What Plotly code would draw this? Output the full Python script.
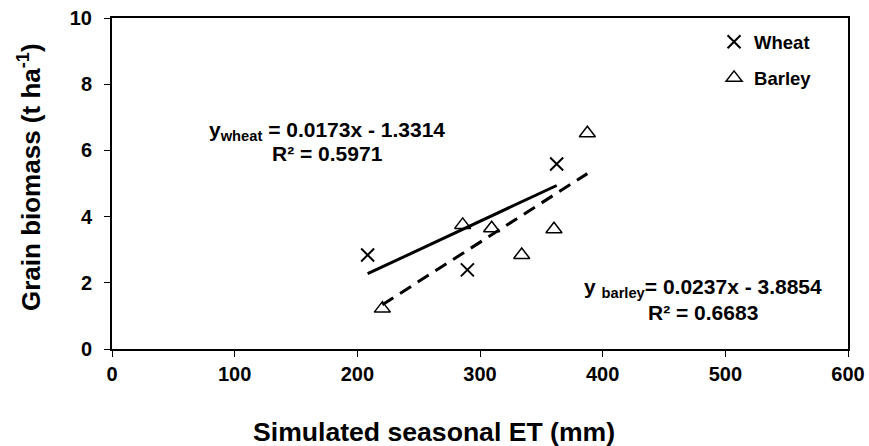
import plotly.graph_objects as go

wheat_et = [208.4, 289.7, 362.5]
wheat_yield = [2.84, 2.39, 5.59]
barley_et = [220.4, 285.9, 309.5, 334.0, 360.3, 387.5]
barley_yield = [1.22, 3.75, 3.65, 2.84, 3.62, 6.52]

wheat_slope, wheat_int = 0.0173, -1.3314
barley_slope, barley_int = 0.0237, -3.8854

x_ticks = [0, 100, 200, 300, 400, 500, 600]
y_ticks = [0, 2, 4, 6, 8, 10]

FONT = "Liberation Sans, Arial, sans-serif"

def fit(xs, m, b):
    x0, x1 = min(xs), max(xs)
    return [x0, x1], [m * x0 + b, m * x1 + b]

wx, wy = fit(wheat_et, wheat_slope, wheat_int)
bx, by = fit(barley_et, barley_slope, barley_int)

fig = go.Figure()
fig.add_trace(go.Scatter(x=wx, y=wy, mode="lines", line=dict(color="black", width=3),
                         showlegend=False, hoverinfo="skip"))
fig.add_trace(go.Scatter(x=bx, y=by, mode="lines", line=dict(color="black", width=3, dash="13px,8px"),
                         showlegend=False, hoverinfo="skip"))
fig.add_trace(go.Scatter(x=wheat_et, y=wheat_yield, mode="markers", name="<b>Wheat</b>",
                         legendgroup="w",
                         marker=dict(symbol="x-thin", size=13, line=dict(color="black", width=2), color="black")))
fig.add_trace(go.Scatter(x=barley_et, y=barley_yield, mode="markers", name="<b>Barley</b>",
                         legendgroup="b",
                         marker=dict(symbol="triangle-up-open", size=14, color="black",
                                     line=dict(color="black", width=1.5))))

ann_font = dict(family=FONT, size=21, color="black")
fig.add_annotation(x=77.4, y=6.59, xanchor="left", yanchor="middle", showarrow=False,
                   text="<b>y<sub>wheat</sub> = 0.0173x - 1.3314</b>", font=ann_font)
fig.add_annotation(x=128.8, y=5.92, xanchor="left", yanchor="middle", showarrow=False,
                   text="<b>R² = 0.5971</b>", font=ann_font)
fig.add_annotation(x=383, y=1.84, xanchor="left", yanchor="middle", showarrow=False,
                   text="<b>y <sub>barley</sub>= 0.0237x - 3.8854</b>", font=ann_font)
fig.add_annotation(x=435, y=1.10, xanchor="left", yanchor="middle", showarrow=False,
                   text="<b>R² = 0.6683</b>", font=ann_font)

# axis titles (placed as in the reference, offset from plot centre)
fig.add_annotation(xref="paper", yref="paper", x=(434 - 112) / 736, y=-(432 - 349) / 331,
                   xanchor="center", yanchor="middle", showarrow=False,
                   text="<b>Simulated seasonal ET (mm)</b>",
                   font=dict(family=FONT, size=26.6, color="black"))
fig.add_annotation(xref="paper", yref="paper", x=-(112 - 29) / 736, y=(349 - 177) / 331,
                   xanchor="center", yanchor="middle", showarrow=False, textangle=-90,
                   text="<b>Grain biomass (t ha<sup>-1</sup>)</b>",
                   font=dict(family=FONT, size=26, color="black"))

axis_common = dict(showline=True, linecolor="black", linewidth=2, mirror=True,
                   showgrid=False, zeroline=False, ticks="outside", ticklen=6,
                   tickwidth=1, tickcolor="black", automargin=False,
                   tickfont=dict(family=FONT, size=20, color="black", weight="bold"))

fig.update_layout(
    width=869, height=446,
    margin=dict(l=112, r=21, t=18, b=97),
    paper_bgcolor="white", plot_bgcolor="white",
    font=dict(family=FONT, color="black"),
    xaxis=dict(range=[0, 600], tickvals=x_ticks, ticktext=[f"<b>{v}</b>" for v in x_ticks],
               **axis_common),
    yaxis=dict(range=[0, 10], tickvals=y_ticks, ticktext=[f"<b>{v}</b>" for v in y_ticks],
               ticklabelstandoff=8, **axis_common),
    legend=dict(x=0.818, y=0.984, xanchor="left", yanchor="top", bgcolor="rgba(0,0,0,0)",
                font=dict(family=FONT, size=18.5, color="black"), itemwidth=30,
                tracegroupgap=9),
    showlegend=True,
)

fig.write_html("out.html")
